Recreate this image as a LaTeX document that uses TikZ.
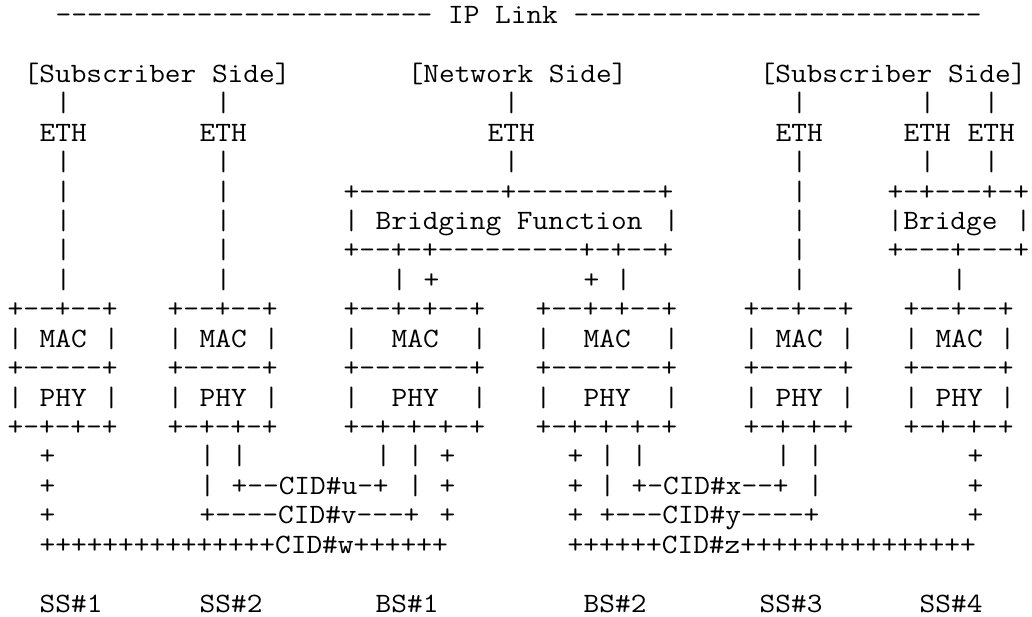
\documentclass[tikz,border=0pt]{standalone}
\usepackage{graphicx}
\tikzset{txt/.style={anchor=base west, inner sep=0pt, outer sep=0pt, text=black,
  font=\ttfamily\fontsize{21pt}{25pt}\selectfont}}
\newcommand\seg[3]{\node[txt] (l#1c#2) at ({7.7+16*#2},{23.5+29.43*#1}) {\scalebox{1.0884}[1]{#3}};}
\begin{document}
\begin{tikzpicture}[x=0.75pt,y=-0.75pt]
\useasboundingbox[fill=white] (0,0) rectangle (1032,617);
% line 0
\seg{0}{3}{------------------------ IP Link --------------------------}
% line 2
\seg{2}{1}{[Subscriber Side]}
\seg{2}{25}{[Network Side]}
\seg{2}{47}{[Subscriber Side]}
% line 3
\seg{3}{3}{|}\seg{3}{13}{|}\seg{3}{31}{|}\seg{3}{49}{|}\seg{3}{57}{|}\seg{3}{61}{|}
% line 4
\seg{4}{2}{ETH}\seg{4}{12}{ETH}\seg{4}{30}{ETH}\seg{4}{48}{ETH}\seg{4}{56}{ETH}\seg{4}{60}{ETH}
% line 5
\seg{5}{3}{|}\seg{5}{13}{|}\seg{5}{31}{|}\seg{5}{49}{|}\seg{5}{57}{|}\seg{5}{61}{|}
% line 6
\seg{6}{3}{|}\seg{6}{13}{|}\seg{6}{21}{+---------+---------+}\seg{6}{49}{|}\seg{6}{55}{+-+---+-+}
% line 7
\seg{7}{3}{|}\seg{7}{13}{|}\seg{7}{21}{|}\seg{7}{23}{Bridging Function}\seg{7}{41}{|}
\seg{7}{49}{|}\seg{7}{55}{|Bridge}\seg{7}{63}{|}
% line 8
\seg{8}{3}{|}\seg{8}{13}{|}\seg{8}{21}{+--+-+---------+-+--+}\seg{8}{49}{|}\seg{8}{55}{+---+---+}
% line 9
\seg{9}{3}{|}\seg{9}{13}{|}\seg{9}{24}{|}\seg{9}{26}{+}\seg{9}{36}{+}\seg{9}{38}{|}\seg{9}{49}{|}\seg{9}{59}{|}
% line 10
\seg{10}{0}{+--+--+}\seg{10}{10}{+--+--+}\seg{10}{21}{+--+-+--+}\seg{10}{33}{+--+-+--+}
\seg{10}{46}{+--+--+}\seg{10}{56}{+--+--+}
% line 11
\seg{11}{0}{|}\seg{11}{2}{MAC}\seg{11}{6}{|}
\seg{11}{10}{|}\seg{11}{12}{MAC}\seg{11}{16}{|}
\seg{11}{21}{|}\seg{11}{24}{MAC}\seg{11}{29}{|}
\seg{11}{33}{|}\seg{11}{36}{MAC}\seg{11}{41}{|}
\seg{11}{46}{|}\seg{11}{48}{MAC}\seg{11}{52}{|}
\seg{11}{56}{|}\seg{11}{58}{MAC}\seg{11}{62}{|}
% line 12
\seg{12}{0}{+-----+}\seg{12}{10}{+-----+}\seg{12}{21}{+-------+}\seg{12}{33}{+-------+}
\seg{12}{46}{+-----+}\seg{12}{56}{+-----+}
% line 13
\seg{13}{0}{|}\seg{13}{2}{PHY}\seg{13}{6}{|}
\seg{13}{10}{|}\seg{13}{12}{PHY}\seg{13}{16}{|}
\seg{13}{21}{|}\seg{13}{24}{PHY}\seg{13}{29}{|}
\seg{13}{33}{|}\seg{13}{36}{PHY}\seg{13}{41}{|}
\seg{13}{46}{|}\seg{13}{48}{PHY}\seg{13}{52}{|}
\seg{13}{56}{|}\seg{13}{58}{PHY}\seg{13}{62}{|}
% line 14
\seg{14}{0}{+-+-+-+}\seg{14}{10}{+-+-+-+}\seg{14}{21}{+-+-+-+-+}\seg{14}{33}{+-+-+-+-+}
\seg{14}{46}{+-+-+-+}\seg{14}{56}{+-+-+-+}
% line 15
\seg{15}{2}{+}\seg{15}{12}{|}\seg{15}{14}{|}\seg{15}{23}{|}\seg{15}{25}{|}\seg{15}{27}{+}
\seg{15}{35}{+}\seg{15}{37}{|}\seg{15}{39}{|}\seg{15}{48}{|}\seg{15}{50}{|}\seg{15}{60}{+}
% line 16
\seg{16}{2}{+}\seg{16}{12}{|}\seg{16}{14}{+--CID\#u-+}\seg{16}{25}{|}\seg{16}{27}{+}
\seg{16}{35}{+}\seg{16}{37}{|}\seg{16}{39}{+-CID\#x--+}\seg{16}{50}{|}\seg{16}{60}{+}
% line 17
\seg{17}{2}{+}\seg{17}{12}{+----CID\#v---+}\seg{17}{27}{+}
\seg{17}{35}{+}\seg{17}{37}{+---CID\#y----+}\seg{17}{60}{+}
% line 18
\seg{18}{2}{+++++++++++++++CID\#w++++++}
\seg{18}{35}{++++++CID\#z+++++++++++++++}
% line 20
\seg{20}{2}{SS\#1}\seg{20}{12}{SS\#2}\seg{20}{23}{BS\#1}\seg{20}{36}{BS\#2}
\seg{20}{47}{SS\#3}\seg{20}{57}{SS\#4}
\end{tikzpicture}
\end{document}
